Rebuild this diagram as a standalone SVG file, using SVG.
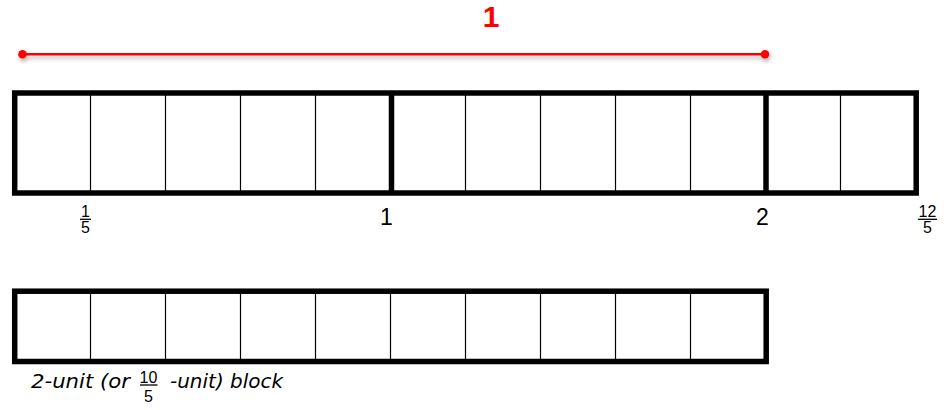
<svg xmlns="http://www.w3.org/2000/svg" width="947" height="410" viewBox="0 0 947 410">
<style>
.thin{stroke:#000;stroke-width:1.2;fill:none}
.thick{stroke:#000;stroke-width:5.5;fill:none}
.lbl{font-family:"Liberation Sans",Arial,sans-serif;fill:#000}
.cap{font-family:"DejaVu Sans","Liberation Sans",sans-serif;font-size:19.5px;font-style:italic;fill:#000}
.fr{font-family:"Liberation Sans",Arial,sans-serif;font-size:16px;fill:#000;text-anchor:middle}
.bar{stroke:#000;stroke-width:1.3}
</style>
<defs>
<filter id="sh" x="-5%" y="-200%" width="110%" height="500%">
<feGaussianBlur in="SourceAlpha" stdDeviation="2"/>
<feOffset dx="1" dy="3" result="b"/>
<feComponentTransfer><feFuncA type="linear" slope="0.3"/></feComponentTransfer>
<feMerge><feMergeNode/><feMergeNode in="SourceGraphic"/></feMerge>
</filter>
</defs>
<g id="measure" filter="url(#sh)">
<line x1="22.5" y1="54.3" x2="765" y2="54.3" stroke="#ff0000" stroke-width="2.5"/>
<circle cx="22.5" cy="54.3" r="4.3" fill="#ff0000"/>
<circle cx="765" cy="54.3" r="4.3" fill="#ff0000"/>
</g>
<text id="measure-label" x="491" y="27" font-family="Liberation Sans,Arial,sans-serif" font-weight="bold" font-size="30" fill="#ff0000" text-anchor="middle">1</text>
<g id="top-bar">
<g class="thin">
<line x1="90.5" y1="93" x2="90.5" y2="193"/>
<line x1="165.5" y1="93" x2="165.5" y2="193"/>
<line x1="240.5" y1="93" x2="240.5" y2="193"/>
<line x1="315.5" y1="93" x2="315.5" y2="193"/>
<line x1="465.5" y1="93" x2="465.5" y2="193"/>
<line x1="540.5" y1="93" x2="540.5" y2="193"/>
<line x1="615.5" y1="93" x2="615.5" y2="193"/>
<line x1="690.5" y1="93" x2="690.5" y2="193"/>
<line x1="840.5" y1="93" x2="840.5" y2="193"/>
</g>
<line class="thick" x1="391.5" y1="93" x2="391.5" y2="193"/>
<line class="thick" x1="766" y1="93" x2="766" y2="193"/>
<rect class="thick" x="14.7" y="93" width="901.5" height="100"/>
</g>
<g id="tick-labels">
<text class="fr" x="85.5" y="216.7">1</text>
<line class="bar" x1="80" y1="219.3" x2="91" y2="219.3"/>
<text class="fr" x="85.5" y="233.2">5</text>
<text class="lbl" x="386.5" y="225" font-size="23" text-anchor="middle">1</text>
<text class="lbl" x="762.5" y="225" font-size="23" text-anchor="middle">2</text>
<text class="fr" x="927.5" y="216.5">12</text>
<line class="bar" x1="918" y1="219.3" x2="937" y2="219.3"/>
<text class="fr" x="927.5" y="233.2">5</text>
</g>
<g id="bottom-bar">
<g class="thin">
<line x1="90.5" y1="291" x2="90.5" y2="361"/>
<line x1="165.5" y1="291" x2="165.5" y2="361"/>
<line x1="240.5" y1="291" x2="240.5" y2="361"/>
<line x1="315.5" y1="291" x2="315.5" y2="361"/>
<line x1="390.5" y1="291" x2="390.5" y2="361"/>
<line x1="465.5" y1="291" x2="465.5" y2="361"/>
<line x1="540.5" y1="291" x2="540.5" y2="361"/>
<line x1="615.5" y1="291" x2="615.5" y2="361"/>
<line x1="690.5" y1="291" x2="690.5" y2="361"/>
</g>
<rect class="thick" x="14.7" y="291.2" width="751.5" height="70.3"/>
</g>
<g id="caption">
<text class="cap" x="31" y="388" textLength="99" lengthAdjust="spacingAndGlyphs">2-unit (or</text>
<text class="fr" x="148.5" y="383.3" font-size="15.5px">10</text>
<line class="bar" x1="140" y1="385" x2="157.5" y2="385"/>
<text class="fr" x="148.5" y="402.3" font-size="15.5px">5</text>
<text class="cap" x="170" y="388" textLength="113" lengthAdjust="spacingAndGlyphs">-unit) block</text>
</g>
</svg>
